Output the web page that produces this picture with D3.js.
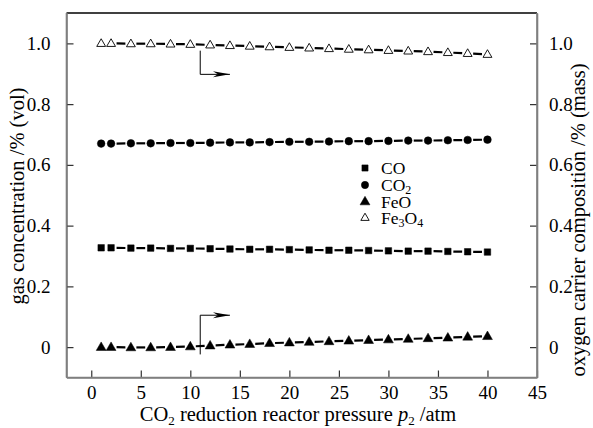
<!DOCTYPE html>
<html><head><meta charset="utf-8">
<script src="https://cdn.jsdelivr.net/npm/d3@7"></script>
<style>body{margin:0;background:#fff}svg{display:block}svg text{font-family:"Liberation Serif","Times New Roman",serif !important;fill:#000}</style>
</head><body><svg id="c" width="593" height="428"></svg>
<script>
const pressure = [1,2,4,6,8,10,12,14,16,18,20,22,24,26,28,30,32,34,36,38,40];
const co    = [0.327,0.327,0.326,0.326,0.325,0.325,0.324,0.323,0.322,0.322,0.321,0.320,0.319,0.319,0.318,0.317,0.316,0.316,0.315,0.314,0.313];
const co2   = [0.670,0.670,0.671,0.671,0.672,0.672,0.673,0.674,0.674,0.675,0.676,0.676,0.677,0.678,0.678,0.679,0.680,0.680,0.681,0.682,0.683];
const feo   = [0.000,0.000,-0.001,-0.001,0.000,0.002,0.005,0.008,0.010,0.013,0.015,0.017,0.019,0.021,0.023,0.025,0.027,0.029,0.031,0.034,0.036];
const fe3o4 = [1.000,1.000,0.999,0.999,0.998,0.997,0.995,0.993,0.991,0.989,0.987,0.985,0.983,0.981,0.979,0.977,0.975,0.973,0.970,0.967,0.964];
const xTicks = [0,5,10,15,20,25,30,35,40,45];
const yTicks = [0,0.2,0.4,0.6,0.8,1.0];
const yTickLabels = ["0","0.2","0.4","0.6","0.8","1.0"];
const seriesNames = ["CO","CO2","FeO","Fe3O4"];

const svg = d3.select("#c");
const L=66.5, R=537, T=13, B=377.5;
const x = d3.scaleLinear().domain([-2.5,45]).range([L,R]);
const y = d3.scaleLinear().domain([-0.1,1.1]).range([B,T]);
const FS = 19, TFS = 20.5, axisCol = "#7f7f7f";

svg.append("line").attr("x1",L).attr("x2",R).attr("y1",T).attr("y2",T).attr("stroke","#000").attr("stroke-width",1.3);
const bottom = svg.append("g").attr("transform",`translate(0,${B})`).call(d3.axisBottom(x).tickValues(xTicks).tickSizeInner(-7).tickSizeOuter(0).tickPadding(8).tickFormat(d3.format("d")));
const left = svg.append("g").attr("transform",`translate(${L},0)`).call(d3.axisLeft(y).tickValues(yTicks).tickSizeInner(-7).tickSizeOuter(0).tickPadding(16).tickFormat((d,i)=>yTickLabels[i]));
const right = svg.append("g").attr("transform",`translate(${R},0)`).call(d3.axisRight(y).tickValues(yTicks).tickSizeInner(-7).tickSizeOuter(0).tickPadding(12).tickFormat((d,i)=>yTickLabels[i]));
[bottom,left,right].forEach(g=>{
  g.attr("font-family",null).attr("font-size",null);
  g.select(".domain").attr("stroke",axisCol).attr("stroke-width",1.6);
  g.selectAll(".tick line").attr("stroke","#333").attr("stroke-width",1.2);
  g.selectAll(".tick text").attr("font-size",FS).attr("fill","#000");
});
svg.append("line").attr("x1",L).attr("x2",L).attr("y1",T).attr("y2",B).attr("stroke",axisCol).attr("stroke-width",1.6);
svg.append("line").attr("x1",R).attr("x2",R).attr("y1",T).attr("y2",B).attr("stroke",axisCol).attr("stroke-width",1.6);
svg.append("line").attr("x1",L).attr("x2",R).attr("y1",B).attr("y2",B).attr("stroke",axisCol).attr("stroke-width",1.6);

const sym = {
  CO: d3.symbol().type(d3.symbolSquare).size(42),
  CO2: d3.symbol().type(d3.symbolCircle).size(46),
  FeO: d3.symbol().type(d3.symbolTriangle).size(42),
  Fe3O4: d3.symbol().type(d3.symbolTriangle).size(34)
};
const series = [
  {name:"CO", vals:co, fill:"#000"},
  {name:"CO2", vals:co2, fill:"#000"},
  {name:"FeO", vals:feo, fill:"#000"},
  {name:"Fe3O4", vals:fe3o4, fill:"#fff"}
];
const gap = 5.5;
series.forEach(s=>{
  const pts = pressure.map((p,i)=>[x(p),y(s.vals[i])]);
  const g = svg.append("g");
  for(let i=0;i<pts.length-1;i++){
    const [x0,y0]=pts[i],[x1,y1]=pts[i+1];
    const dx=x1-x0, dy=y1-y0, len=Math.hypot(dx,dy);
    if(len<=2*gap+1) continue;
    const ux=dx/len, uy=dy/len;
    g.append("line").attr("x1",x0+ux*gap).attr("y1",y0+uy*gap).attr("x2",x1-ux*gap).attr("y2",y1-uy*gap)
      .attr("stroke","#000").attr("stroke-width",2.2);
  }
  g.selectAll("path").data(pts).join("path")
    .attr("d",sym[s.name]())
    .attr("transform",d=>`translate(${d[0]},${d[1]+(s.name.startsWith("Fe")?0.5:0)})`)
    .attr("fill",s.fill).attr("stroke","#000").attr("stroke-width",s.fill==="#fff"?0.9:0.5);
});

function arrow(pts){
  svg.append("path").attr("d",d3.line()(pts)).attr("fill","none").attr("stroke","#000").attr("stroke-width",1);
  const [xe,ye]=pts[pts.length-1];
  svg.append("path").attr("d",`M${xe},${ye} L${xe-17},${ye-3} L${xe-12},${ye} L${xe-17},${ye+3} Z`).attr("fill","#000");
}
arrow([[x(11),y(0.976)],[x(11),y(0.898)],[x(14),y(0.898)]]);
arrow([[x(11),y(-0.024)],[x(11),y(0.105)],[x(14),y(0.105)]]);

const lg = svg.append("g");
const legY=[168,185,202,218];
series.forEach((s,i)=>{
  lg.append("path").attr("d",d3.symbol().type(s.name==="CO"?d3.symbolSquare:s.name==="CO2"?d3.symbolCircle:d3.symbolTriangle).size(s.name==="CO"?38:s.name==="Fe3O4"?30:42)())
    .attr("transform",`translate(365,${legY[i]})`).attr("fill",s.fill).attr("stroke","#000").attr("stroke-width",s.fill==="#fff"?0.9:0.5);
  const t = lg.append("text").attr("x",381).attr("y",legY[i]+6).attr("font-size",17.5);
  if(s.name==="CO") t.text("CO");
  else if(s.name==="CO2"){t.append("tspan").text("CO");t.append("tspan").attr("font-size",12).attr("dy",3).text("2");}
  else if(s.name==="FeO") t.text("FeO");
  else {t.append("tspan").text("Fe");t.append("tspan").attr("font-size",12).attr("dy",3).text("3");t.append("tspan").attr("dy",-3).text("O");t.append("tspan").attr("font-size",12).attr("dy",3).text("4");}
});

const xt = svg.append("text").attr("x",298).attr("y",421).attr("text-anchor","middle").attr("font-size",TFS);
xt.append("tspan").text("CO");
xt.append("tspan").attr("font-size",13).attr("dy",4).text("2");
xt.append("tspan").attr("dy",-4).text(" reduction reactor pressure ");
xt.append("tspan").attr("font-style","italic").text("p");
xt.append("tspan").attr("font-size",13).attr("dy",4).text("2");
xt.append("tspan").attr("dy",-4).text(" /atm");

svg.append("text").attr("transform",`translate(24,196) rotate(-90)`).attr("text-anchor","middle").attr("font-size",TFS).text("gas concentration /% (vol)");
svg.append("text").attr("transform",`translate(585,220) rotate(-90)`).attr("text-anchor","middle").attr("font-size",TFS).text("oxygen carrier composition /% (mass)");
</script></body></html>
